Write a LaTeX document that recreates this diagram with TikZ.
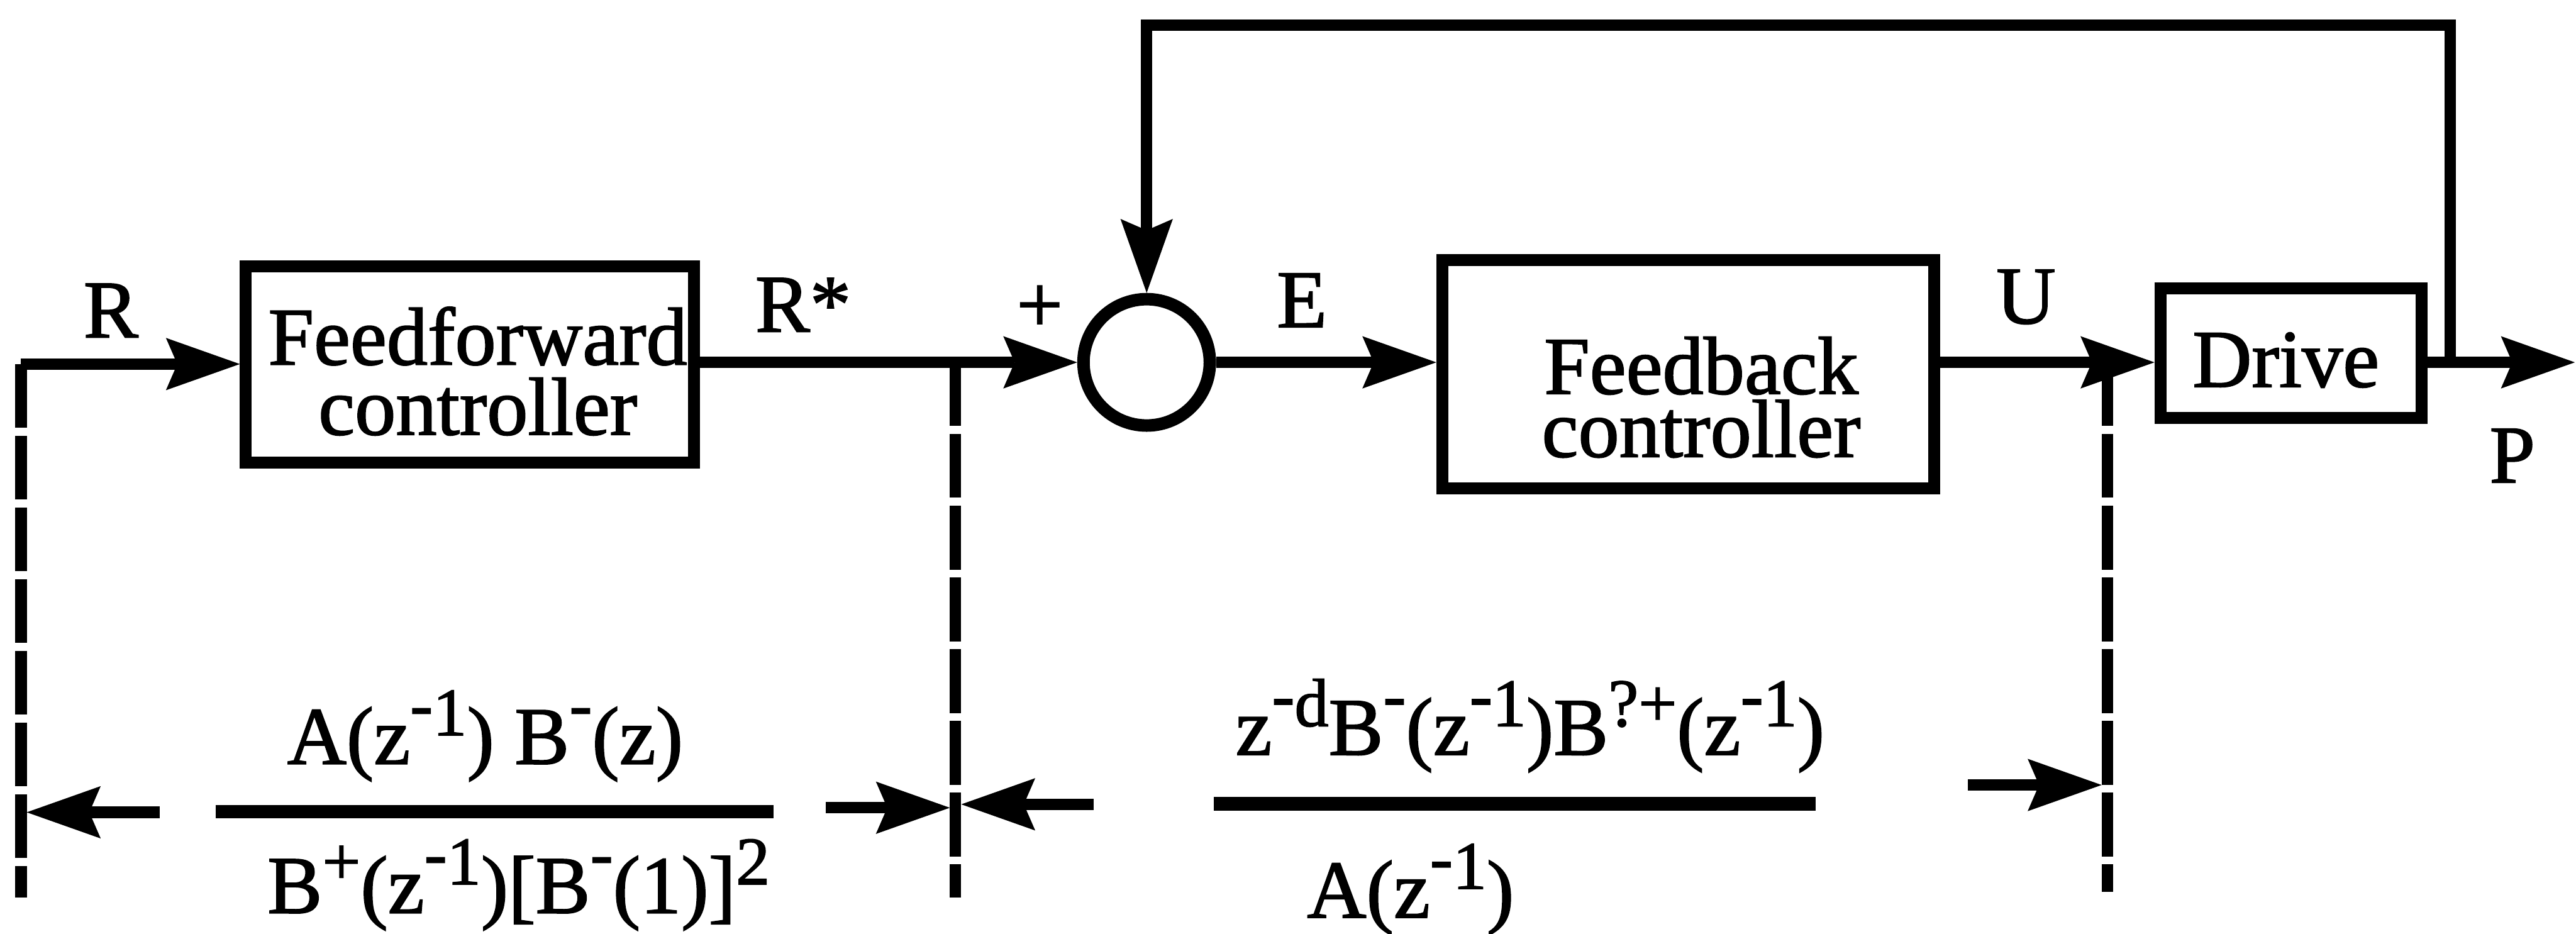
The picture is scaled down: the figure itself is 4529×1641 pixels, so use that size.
\documentclass[tikz,border=0pt]{standalone}
\usepackage{fontspec}
\setmainfont{Liberation Serif}[FakeBold=1.5]
\usetikzlibrary{arrows.meta}
\newcommand\sps[1]{\raisebox{0.35em}{\fontsize{34}{34}\selectfont #1}}
\newcommand\mn{\raisebox{0.12em}{-}}
\newcommand\boxtext[4]{\makebox[0pt]{\hspace*{#1}\raisebox{#2}[0pt][0pt]{\parbox[b]{10cm}{\centering\fontsize{41}{#3}\selectfont #4}}}}
\begin{document}
\begin{tikzpicture}[x=0.01cm, y=-0.01cm, line width=0.2cm,
  font=\fontsize{41}{47}\selectfont,
  blk/.style={draw, rectangle, line width=0.21cm, inner sep=0pt},
  sumc/.style={draw, circle, line width=0.22cm, minimum size=2.22cm, inner sep=0pt},
  arr/.style={-{Stealth[length=1.3cm, width=0.92cm, inset=0.2cm, line width=0pt]}},
  dimline/.style={line width=0.2cm, dash pattern=on 1.12cm off 0.14cm},
  bar/.style={line width=0.24cm},
  lbl/.style={inner sep=0pt}]
\useasboundingbox (0,0) rectangle (4529,1641);

% blocks
\node[blk, minimum width=7.87cm, minimum height=3.45cm] (ff) at (826,641)
  {\boxtext{0.28cm}{-1.23cm}{35pt}{Feedforward\\controller}};
\node[sumc] (sum) at (2016,637) {};
\node[blk, minimum width=8.64cm, minimum height=4.01cm] (fb) at (2968,658)
  {\boxtext{0.46cm}{-1.45cm}{31.5pt}{Feedback\\controller}};
\node[blk, minimum width=4.59cm, minimum height=2.28cm] (drive) at (4028,621)
  {\boxtext{-0.18cm}{-0.59cm}{41pt}{Drive}};

% coordinates
\coordinate (in) at (37,640);
\coordinate (out) at (4527,637);
\coordinate (fbk) at (4308,637);
\coordinate (tr) at (4308,44);
\coordinate (m2) at (1680,637);
\coordinate (m3) at (3705,637);
\coordinate (d1b) at (37,1578);
\coordinate (d2b) at (1680,1578);
\coordinate (d3b) at (3705,1568);

% signal lines
\draw[arr] (in) -- (ff.west |- in);
\draw[arr] (ff.east |- sum.west) -- (sum.west);
\draw[arr] (sum.east) -- (fb.west |- sum.east);
\draw[arr] (fb.east |- sum.east) -- (drive.west |- sum.east);
\draw[arr] (drive.east |- sum.east) -- (out);
\draw[arr] (fbk) -- (tr) -| (sum.north);

% labels
\node[lbl] (lR) at (195,546) {R};
\node[lbl] (lRs) at (1412,536) {R*};
\node[lbl] (lplus) at (1828,543) {+};
\node[lbl] (lE) at (2289,528) {E};
\node[lbl] (lU) at (3562,522) {U};
\node[lbl] (lP) at (4417,801) {P};

% dash-dot boundaries
\draw[dimline] (in) -- (d1b);
\draw[dimline] (m2) -- (d2b);
\draw[dimline] (m3) -- (d3b);

% dimension arrows
\coordinate (a1s) at (281,1428); \coordinate (a1e) at (47,1428);
\coordinate (a2s) at (1452,1420); \coordinate (a2e) at (1670,1420);
\coordinate (a3s) at (1923,1414); \coordinate (a3e) at (1690,1414);
\coordinate (a4s) at (3460,1380); \coordinate (a4e) at (3695,1380);
\draw[arr] (a1s) -- (a1e);
\draw[arr] (a2s) -- (a2e);
\draw[arr] (a3s) -- (a3e);
\draw[arr] (a4s) -- (a4e);

% fractions
\coordinate (b1l) at (379,1427); \coordinate (b1r) at (1360,1427);
\coordinate (b2l) at (2134,1413); \coordinate (b2r) at (3192,1413);
\draw[bar] (b1l) -- (b1r);
\draw[bar] (b2l) -- (b2r);
\node[lbl, anchor=base] (num1) at (853,1343) {A(z\sps{\mn1}) B\sps{\mn}(z)};
\node[lbl, anchor=base] (den1) at (912,1605) {B\sps{+}(z\sps{\mn1})[B\sps{\mn}(1)]\sps{2}};
\node[lbl, anchor=base] (num2) at (2690,1327) {z\sps{\mn d}B\sps{\mn}(z\sps{\mn1})B\sps{?+}(z\sps{\mn1})};
\node[lbl, anchor=base] (den2) at (2480,1613) {A(z\sps{\mn1})};
\end{tikzpicture}
\end{document}
